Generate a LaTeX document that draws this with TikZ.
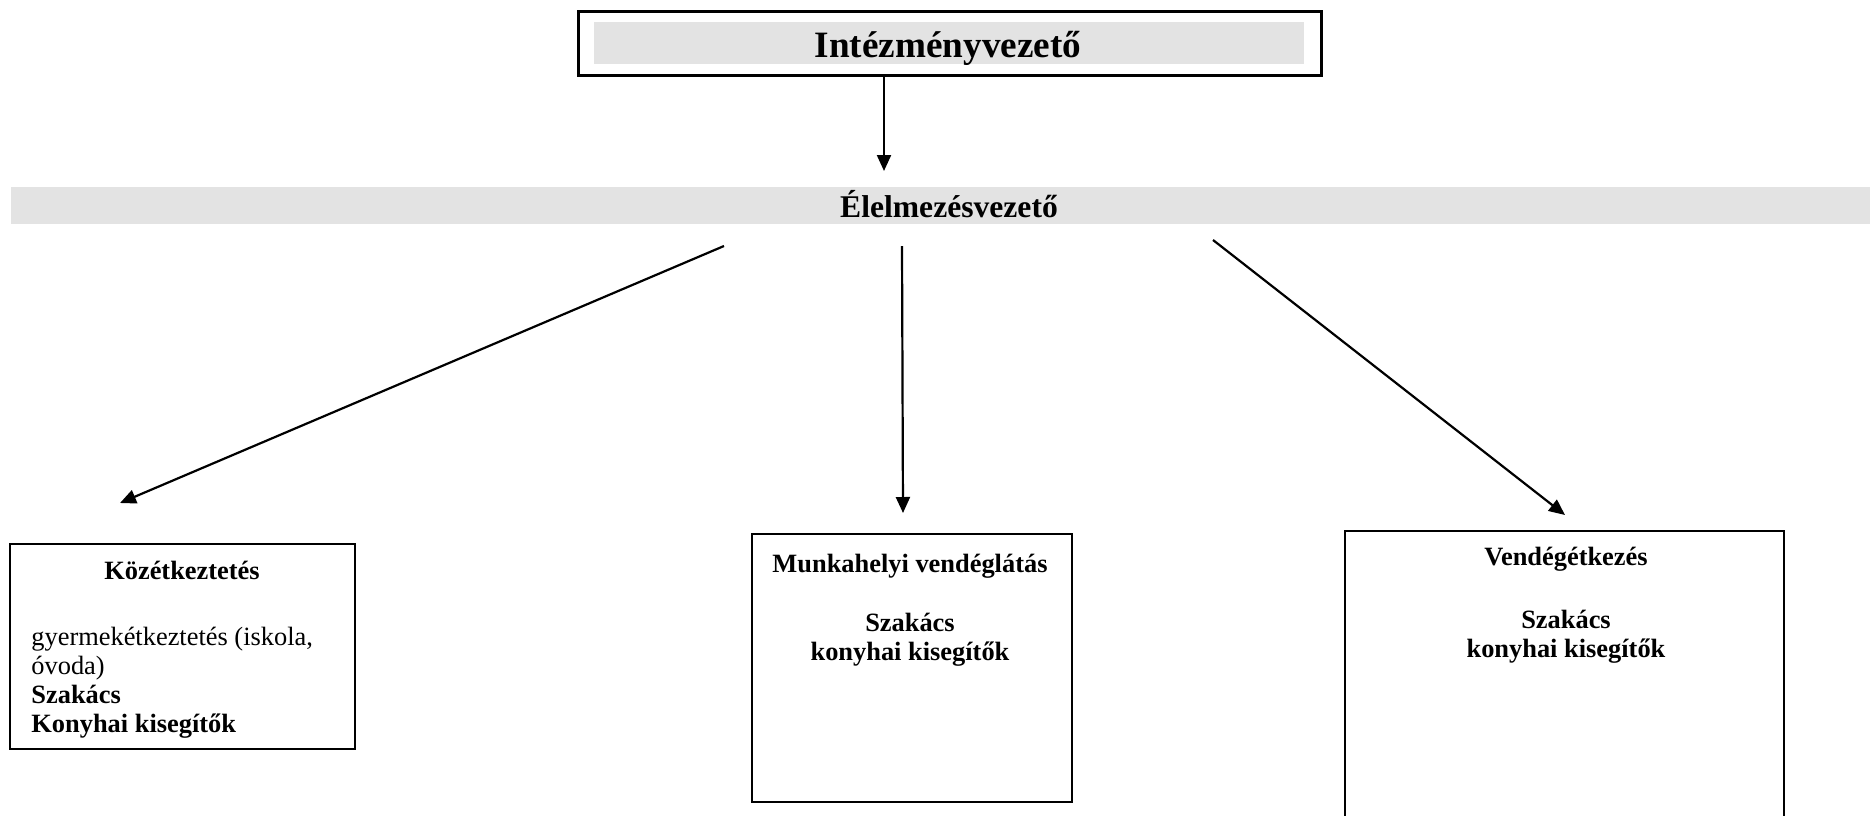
\documentclass[tikz,border=0pt]{standalone}
\usepackage{fontspec}
\setmainfont{Liberation Serif}
\usetikzlibrary{arrows.meta}
\definecolor{bandgray}{HTML}{E3E3E3}
\tikzset{
  box/.style={draw=black, line width=1pt, rectangle, inner sep=0pt, anchor=north west},
  topframe/.style={box, line width=1.3pt},
  grayfill/.style={fill=bandgray, draw=none, rectangle, inner sep=0pt, anchor=north west},
  conn/.style={line width=1.1pt, -{Triangle[length=8pt,width=7pt]}},
  boxlbl/.style={inner sep=0pt, anchor=base, font=\bfseries\fontsize{13.2}{15}\selectfont},
  boxtxt/.style={inner sep=0pt, anchor=base west, font=\fontsize{13.2}{15}\selectfont},
  toplbl/.style={inner sep=0pt, anchor=base, font=\bfseries\fontsize{18.6}{22}\selectfont},
  bandlbl/.style={inner sep=0pt, anchor=base, font=\bfseries\fontsize{15.8}{19}\selectfont},
}
\begin{document}
\begin{tikzpicture}[x=0.5pt, y=-0.5pt]
  \useasboundingbox (0,0) rectangle (1870,815);
  \fill[white] (0,0) rectangle (1870,815);
  \clip (0,0) rectangle (1870,815);

  % top box
  \node[topframe, minimum width=371.5pt, minimum height=32pt] (top) at (577,10) {};
  \node[grayfill, minimum width=355pt, minimum height=21pt] (topfill) at (594,22) {};
  \node[toplbl] (toptext) at (948,57) {Intézményvezető};

  % band
  \node[grayfill, minimum width=929.5pt, minimum height=18.5pt] (band) at (11,187) {};
  \node[bandlbl] (bandtext) at (949,217) {Élelmezésvezető};

  % lower boxes
  \node[box, minimum width=172.5pt, minimum height=102.5pt] (left) at (9,543) {};
  \node[box, minimum width=160pt, minimum height=134pt] (mid) at (751,533) {};
  \node[box, minimum width=219.5pt, minimum height=160pt] (right) at (1344,530) {};

  % left box texts
  \node[boxlbl] (lt1) at (182,579) {Közétkeztetés};
  \node[boxtxt] (lt2) at (31,645) {gyermekétkeztetés (iskola,};
  \node[boxtxt] (lt3) at (31,674) {óvoda)};
  \node[boxtxt, font=\bfseries\fontsize{13.2}{15}\selectfont] (lt4) at (31,703) {Szakács};
  \node[boxtxt, font=\bfseries\fontsize{13.2}{15}\selectfont] (lt5) at (31,732) {Konyhai kisegítők};

  % middle box texts
  \node[boxlbl] (mt1) at (910,572) {Munkahelyi vendéglátás};
  \node[boxlbl] (mt2) at (910,631) {Szakács};
  \node[boxlbl] (mt3) at (910,660) {konyhai kisegítők};

  % right box texts
  \node[boxlbl] (rt1) at (1566,565) {Vendégétkezés};
  \node[boxlbl] (rt2) at (1566,628) {Szakács};
  \node[boxlbl] (rt3) at (1566,657) {konyhai kisegítők};

  % connector end points
  \coordinate (a1e) at (884,171);
  \coordinate (als) at (724,246);
  \coordinate (ale) at (120,503);
  \coordinate (ams) at (902,246);
  \coordinate (ame) at (903,513);
  \coordinate (ars) at (1213,240);
  \coordinate (are) at (1565,515);

  % connectors
  \draw[conn] (top.south -| a1e) -- (a1e);
  \draw[conn] (als) -- (ale);
  \draw[conn] (ams) -- (ame);
  \draw[conn] (ars) -- (are);
\end{tikzpicture}
\end{document}
